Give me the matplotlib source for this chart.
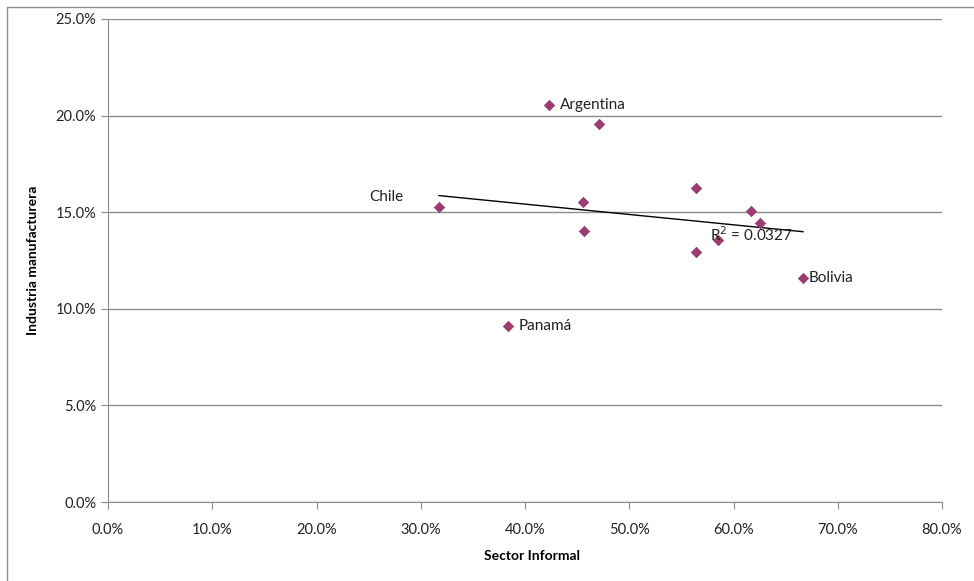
import numpy as np
import matplotlib.pyplot as plt
from matplotlib.patches import Rectangle
from matplotlib.ticker import FuncFormatter

# informal sector share vs manufacturing share (percent)
informal = [42.3, 47.1, 31.75, 45.56, 45.66, 56.4, 56.4, 58.5, 61.7, 62.5, 66.67, 38.37]
manufactura = [20.55, 19.57, 15.27, 15.53, 14.03, 16.25, 12.94, 13.56, 15.06, 14.44, 11.59, 9.11]
names = ["Argentina", "", "Chile", "", "", "", "", "", "", "", "Bolivia", "Panamá"]
r2_text = "R$^2$ = 0.0327"

plt.rcParams['font.family'] = ['Lato', 'DejaVu Sans']

fig = plt.figure(figsize=(9.74, 5.81), dpi=100)
ax = fig.add_axes([108/974, 1-502/581, (942-108)/974, (502-19)/581])

# thin grey frame round the chart area
fig.patches.append(Rectangle((7/974, -0.05), 1.0, 1.05 - 7/581, transform=fig.transFigure,
                             fill=False, edgecolor='#8c8c8c', linewidth=1.0))

x = np.array(informal) / 100
y = np.array(manufactura) / 100

ax.scatter(x, y, marker='D', s=34, color='#9B3D70', zorder=3, linewidths=0)

# linear trend over the data range
m, b = np.polyfit(x, y, 1)
xs = np.array([x.min(), x.max()])
ax.plot(xs, m * xs + b, color='black', linewidth=1.0, zorder=2)

for xi, yi, n in zip(x, y, names):
    if not n:
        continue
    if n == "Chile":
        ax.annotate(n, (xi, yi), xytext=(-50, 7), textcoords='offset points',
                    fontsize=11, va='center', color='#222222')
    elif n == "Bolivia":
        ax.annotate(n, (xi, yi), xytext=(4, 0), textcoords='offset points',
                    fontsize=11, va='center', color='#222222')
    else:
        ax.annotate(n, (xi, yi), xytext=(8, 0), textcoords='offset points',
                    fontsize=11, va='center', color='#222222')

ax.text(0.577, 0.1385, r2_text, fontsize=11, va='center', ha='left', color='#222222')

ax.set_xlim(0, 0.8)
ax.set_ylim(0, 0.25)
ax.set_xticks(np.arange(0, 0.81, 0.1))
ax.set_yticks(np.arange(0, 0.251, 0.05))
pct = FuncFormatter(lambda v, p: f"{v*100:.1f}%")
ax.xaxis.set_major_formatter(pct)
ax.yaxis.set_major_formatter(pct)

ax.grid(axis='y', color='#8c8c8c', linewidth=1.0)
ax.set_axisbelow(True)
for s in ['top', 'right']:
    ax.spines[s].set_visible(False)
for s in ['left', 'bottom']:
    ax.spines[s].set_color('#8c8c8c')
ax.tick_params(axis='both', colors='#8c8c8c', labelcolor='#222222', labelsize=10.5,
               length=5, direction='out')
ax.tick_params(axis='x', pad=10)

ax.set_xlabel("Sector Informal", fontsize=10, fontweight='bold')
ax.xaxis.set_label_coords(0.508, -0.1)
ax.set_ylabel("Industria manufacturera", fontsize=10, fontweight='bold', labelpad=12)

fig.savefig("out.png", dpi=100)
